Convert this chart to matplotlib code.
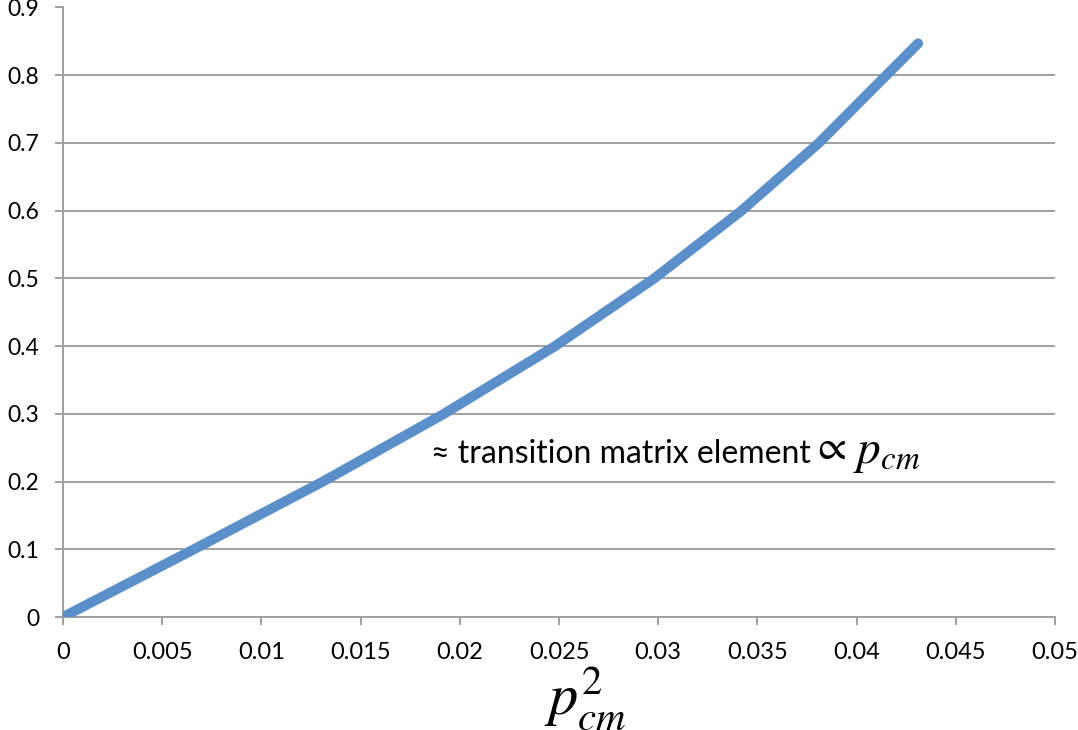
import matplotlib
matplotlib.use("Agg")
import matplotlib.pyplot as plt

# p_cm^2 values where the curve crosses each level, plus the end point
pcm_sq = [0.0, 0.0066, 0.0131, 0.0192, 0.0248, 0.0298, 0.0342, 0.0381, 0.0415, 0.0431]
element = [0.0, 0.1, 0.2, 0.3, 0.4, 0.5, 0.6, 0.7, 0.8, 0.847]

x_ticks = [0, 0.005, 0.01, 0.015, 0.02, 0.025, 0.03, 0.035, 0.04, 0.045, 0.05]
x_tick_labels = ["0", "0.005", "0.01", "0.015", "0.02", "0.025", "0.03", "0.035", "0.04", "0.045", "0.05"]
y_ticks = [0, 0.1, 0.2, 0.3, 0.4, 0.5, 0.6, 0.7, 0.8, 0.9]
y_tick_labels = ["0", "0.1", "0.2", "0.3", "0.4", "0.5", "0.6", "0.7", "0.8", "0.9"]

plt.rcParams["mathtext.fontset"] = "stix"
plt.rcParams["font.family"] = ["Lato", "DejaVu Sans"]

W, H = 1078, 730
fig = plt.figure(figsize=(W / 100, H / 100), dpi=100)
ax = fig.add_axes([63 / W, 1 - 617 / H, (1055 - 63) / W, (617 - 7.5) / H])

grey = "#a0a0a0"
ax.plot(pcm_sq, element, color="#5b8fc9", lw=7.2,
        solid_capstyle="round", solid_joinstyle="round", zorder=3)

ax.set_xlim(0, 0.05)
ax.set_ylim(0, 0.9)
ax.set_xticks(x_ticks)
ax.set_xticklabels(x_tick_labels)
ax.set_yticks(y_ticks)
ax.set_yticklabels(y_tick_labels)

ax.set_axisbelow(True)
ax.yaxis.grid(True, color=grey, lw=1.4)
ax.xaxis.grid(False)
for side in ("top", "right"):
    ax.spines[side].set_visible(False)
for side in ("left", "bottom"):
    ax.spines[side].set_color(grey)
    ax.spines[side].set_linewidth(1.4)

ax.tick_params(axis="x", direction="out", length=6, width=1.4, color=grey,
               labelsize=17, pad=12)
ax.tick_params(axis="y", direction="out", length=6, width=1.4, color=grey,
               labelsize=16.5, pad=11)

# annotation next to the curve
ax.text(0.01855, 0.227, "\u2248 transition matrix element", fontsize=23,
        va="baseline", ha="left")
ax.text(0.03770, 0.234, r"$\propto$", fontsize=30,
        va="baseline", ha="left")
ax.text(0.03980, 0.227, r"$p_{cm}$", fontsize=34,
        va="baseline", ha="left")

# x-axis label
fig.text(585 / W, 1 - 714 / H, r"$p_{cm}^{2}$", fontsize=42,
         ha="center", va="baseline")

fig.savefig("out.png", dpi=100)
